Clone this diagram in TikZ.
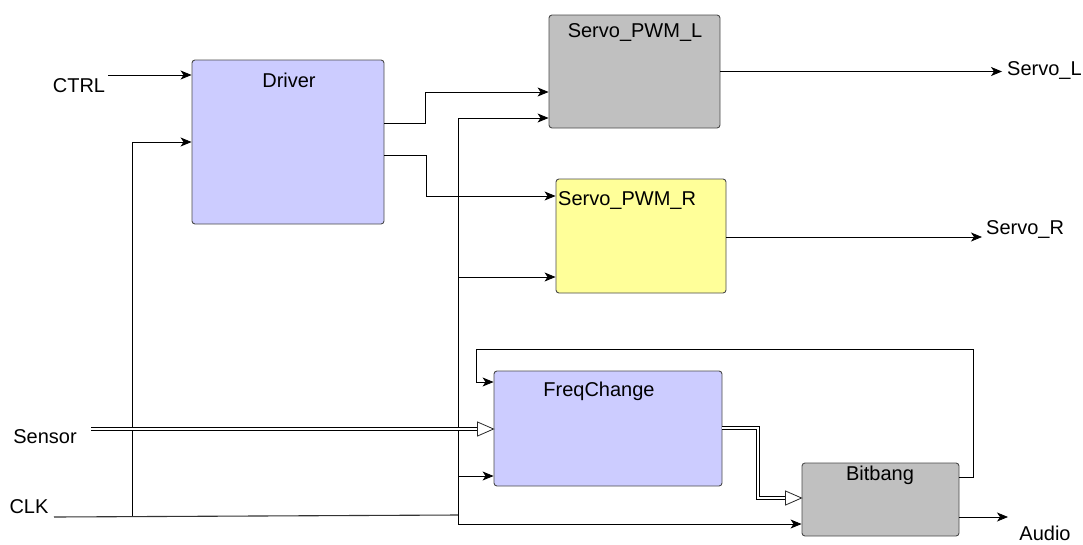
\documentclass[tikz,border=0pt]{standalone}
\usepackage{fontspec}
\setmainfont{Liberation Sans}
\usetikzlibrary{arrows.meta,calc}
\definecolor{lav}{HTML}{CCCCFF}
\definecolor{greybox}{HTML}{C0C0C0}
\definecolor{yelbox}{HTML}{FFFF99}
\definecolor{edge}{HTML}{4A4A4A}
\begin{document}
\begin{tikzpicture}[x=1pt,y=-1pt,
  block/.style={draw=edge,line width=0.9pt,rounded corners=3pt,inner sep=0pt},
  title/.style={font=\fontsize{20}{22}\selectfont,inner sep=0pt},
  io/.style={font=\fontsize{20}{22}\selectfont,inner sep=0pt},
  wire/.style={line width=0.8pt,-{Stealth[length=11pt,width=9pt,inset=3pt]}},
  plain/.style={line width=0.8pt},
  bus/.style={line width=0.7pt,double,double distance=2.4pt,shorten >=15pt},
  bustip/.style={line width=0.8pt,draw=black!85,fill=white,line join=miter}]
\useasboundingbox (0,0) rectangle (1083,544);

% blocks
\node[block,fill=lav,minimum width=192pt,minimum height=164pt] (drv) at (288,142) {};
\node[title] at (289,80) {Driver};
\node[block,fill=greybox,minimum width=171pt,minimum height=113pt] (pwml) at (634.5,71.5) {};
\node[title] at (635,33) {Servo\_PWM\_L};
\node[block,fill=yelbox,minimum width=170pt,minimum height=114pt] (pwmr) at (641,236) {};
\node[title,anchor=west] at (558,200) {Servo\_PWM\_R};
\node[block,fill=lav,minimum width=228pt,minimum height=115pt] (freq) at (608,428.5) {};
\node[title] at (599,391) {FreqChange};
\node[block,fill=greybox,minimum width=157pt,minimum height=73pt] (bitb) at (880.5,499.5) {};
\node[title] at (880,475) {Bitbang};

% external signals
\node[io] (ctrl) at (79,86) {CTRL};
\node[io] (sens) at (45,437) {Sensor};
\node[io] (clk) at (29,507) {CLK};
\node[io,anchor=west] (sl) at (1007,71) {Servo\_L};
\node[io,anchor=west] (sr) at (986,229) {Servo\_R};
\node[io] (aud) at (1045,533) {Audio};

\coordinate (ctrlin) at (108,75);
\coordinate (sensin) at (91,429);
\coordinate (clkin) at (54,517);
\coordinate (clkbus) at (458,515);
\coordinate (bustop) at (458,118);
\coordinate (busbot) at (458,524);
\coordinate (drvclk) at (132,516);
\coordinate (slend) at (1002,71.5);
\coordinate (srend) at (982,237);
\coordinate (audend) at (1008,517);
\coordinate (senstip) at (sensin -| freq.west);
\coordinate (bbtip) at (758,498 -| bitb.west);

% control and clock
\draw[wire] (ctrlin) -- (ctrlin -| drv.west);
\draw[line width=1.1pt,draw=black!80] (clkin) -- (clkbus);
\draw[plain] (bustop) -- (busbot);
\draw[wire] (drvclk) -- (132,142) -- (drv.west);
\draw[wire] (bustop) -- (bustop -| pwml.west);
\draw[wire] (458,277) -- (458,277 -| pwmr.west);
\draw[wire] (458,476) -- (458,476 -| freq.west);
\draw[wire] (busbot) -- (busbot -| bitb.west);

% driver outputs
\draw[wire] (drv.east |- 0,123) -- (425,123) -- (425,92) -- (425,92 -| pwml.west);
\draw[wire] (drv.east |- 0,155) -- (426,155) -- (426,196) -- (426,196 -| pwmr.west);

% outputs
\draw[wire] (pwml.east) -- (slend);
\draw[wire] (pwmr.east |- srend) -- (srend);
\draw[wire] (bitb.east |- audend) -- (audend);

% feedback from Bitbang to FreqChange
\draw[wire] (bitb.east |- 0,477) -- (973,477) -- (973,349) -- (476,349) -- (476,382) -- (476,382 -| freq.west);

% multi-bit buses with open arrowheads
\draw[bus] (sensin) -- (senstip);
\draw[bustip] (senstip) -- ++(-16,-7) -- ++(0,14) -- cycle;
\draw[bus] (freq.east |- 0,428) -- (758,428) -- (758,498) -- (bbtip);
\draw[bustip] (bbtip) -- ++(-16,-7) -- ++(0,14) -- cycle;
\end{tikzpicture}
\end{document}
